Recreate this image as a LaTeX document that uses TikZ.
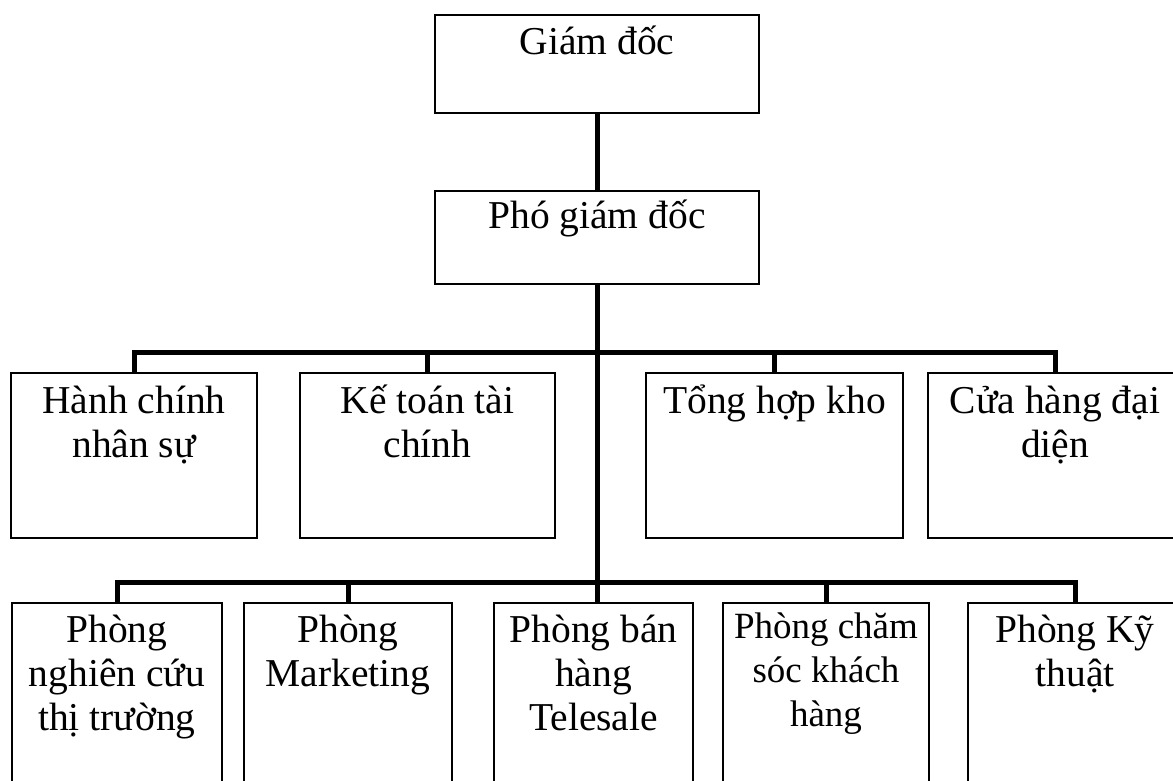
\documentclass[tikz,border=0pt]{standalone}
\usepackage{fontspec}
\setmainfont{Liberation Serif}
\newcommand\orgtext[4][39pt]{\parbox[t][#3][t]{#2}{\centering\rule{0pt}{#1}#4}}
\tikzset{
  orgbox/.style={draw, line width=1.3pt, inner sep=0pt, outer sep=0pt, anchor=north west, rectangle},
  mainfont/.style={font=\fontsize{39.5}{44}\selectfont},
  smallfont/.style={font=\fontsize{37}{44}\selectfont},
  conn/.style={line width=5pt, line join=miter}
}
\begin{document}
\begin{tikzpicture}[x=1pt, y=-1pt]
\useasboundingbox (0,0) rectangle (1173,781);
\clip (0,0) rectangle (1173,781);
\fill[white] (0,0) rectangle (1173,781);
% top
\node[orgbox, mainfont] (gd)  at (435,15)  {\orgtext[40pt]{324pt}{98pt}{Giám đốc}};
\node[orgbox, mainfont] (pgd) at (435,191) {\orgtext[37pt]{324pt}{93pt}{Phó giám đốc}};
% upper row
\node[orgbox, mainfont] (h1) at (11,373)  {\orgtext[40pt]{246pt}{165pt}{Hành chính\\nhân sự}};
\node[orgbox, mainfont] (h2) at (300,373) {\orgtext[40pt]{255pt}{165pt}{Kế toán tài\\chính}};
\node[orgbox, mainfont] (h3) at (646,373) {\orgtext[40pt]{257pt}{165pt}{Tổng hợp kho}};
\node[orgbox, mainfont] (h4) at (928,373) {\orgtext[40pt]{254pt}{165pt}{Cửa hàng đại\\diện}};
% lower row
\node[orgbox, mainfont] (l1) at (12,603)  {\orgtext{210pt}{200pt}{Phòng\\nghiên cứu\\thị trường}};
\node[orgbox, mainfont] (l2) at (244,603) {\orgtext{208pt}{200pt}{Phòng\\Marketing}};
\node[orgbox, mainfont] (l3) at (494,603) {\orgtext{199pt}{200pt}{Phòng bán\\hàng\\Telesale}};
\node[orgbox, smallfont] (l4) at (723,603) {\orgtext[35pt]{206pt}{200pt}{Phòng chăm\\sóc khách\\hàng}};
\node[orgbox, mainfont] (l5) at (968,603) {\orgtext{214pt}{200pt}{Phòng Kỹ\\thuật}};
% buses
\coordinate (bus1) at (0,352);
\coordinate (bus2) at (0,582);
% connectors
\draw[conn] (gd.south) -- (pgd.north);
\draw[conn] (pgd.south) -- (pgd.south |- l3.north);
\draw[conn] (h1.north) -- (h1.north |- bus1) -- (h4.north |- bus1) -- (h4.north);
\draw[conn] (h2.north) -- (h2.north |- bus1);
\draw[conn] (h3.north) -- (h3.north |- bus1);
\draw[conn] (l1.north) -- (l1.north |- bus2) -- (l5.north |- bus2) -- (l5.north);
\draw[conn] (l2.north) -- (l2.north |- bus2);
\draw[conn] (l4.north) -- (l4.north |- bus2);
\end{tikzpicture}
\end{document}
